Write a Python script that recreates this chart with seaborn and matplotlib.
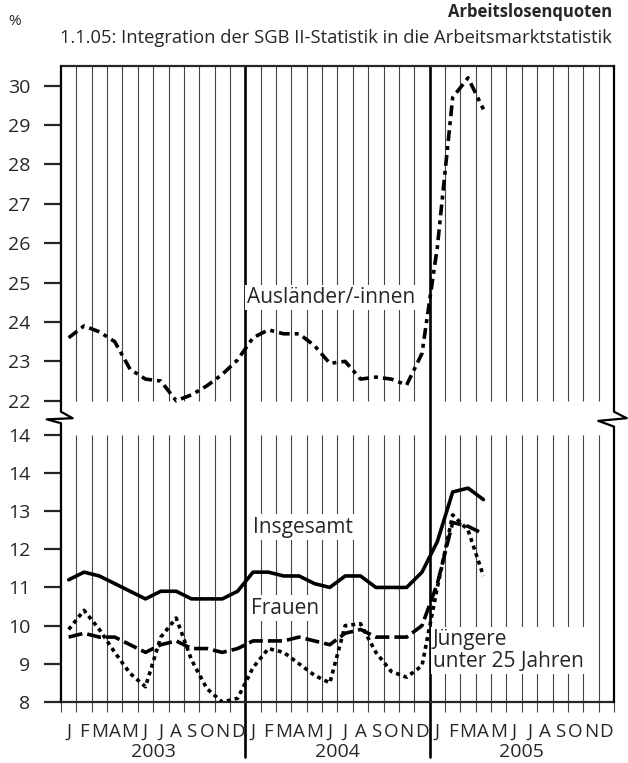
import numpy as np
import pandas as pd
import seaborn as sns
import matplotlib.pyplot as plt

# Arbeitslosenquoten Jan 2003 - Apr 2005 (monthly, %)
months = ["J", "F", "M", "A", "M", "J", "J", "A", "S", "O", "N", "D"]
years = ["2003", "2004", "2005"]

insgesamt = [11.2, 11.4, 11.3, 11.1, 10.9, 10.7, 10.9, 10.9, 10.7, 10.7, 10.7, 10.9,
             11.4, 11.4, 11.3, 11.3, 11.1, 11.0, 11.3, 11.3, 11.0, 11.0, 11.0, 11.4,
             12.2, 13.5, 13.6, 13.3]
frauen = [9.7, 9.8, 9.7, 9.7, 9.5, 9.3, 9.5, 9.6, 9.4, 9.4, 9.3, 9.4,
          9.6, 9.6, 9.6, 9.7, 9.6, 9.5, 9.8, 9.9, 9.7, 9.7, 9.7, 10.0,
          11.1, 12.7, 12.6, 12.4]
juengere = [9.9, 10.4, 9.9, 9.3, 8.75, 8.4, 9.7, 10.2, 9.1, 8.35, 8.0, 8.1,
            8.9, 9.4, 9.3, 9.0, 8.7, 8.5, 10.0, 10.05, 9.3, 8.8, 8.65, 8.95,
            11.0, 12.9, 12.5, 11.3]
auslaender = [23.6, 23.9, 23.75, 23.5, 22.8, 22.55, 22.5, 22.0, 22.15, 22.38, 22.67, 23.04,
              23.6, 23.8, 23.7, 23.7, 23.4, 22.95, 23.0, 22.55, 22.6, 22.55, 22.4, 23.2,
              25.9, 29.7, 30.2, 29.4]

lower_ticks = [8, 9, 10, 11, 12, 13, 14, 15]
lower_labels = ["8", "9", "10", "11", "12", "13", "14", "14"]
upper_ticks = [22, 23, 24, 25, 26, 27, 28, 29, 30]

# broken axis: upper block (22-30) is shifted down onto the lower scale
Y22 = 15.887
K = 1.031


def upper(v):
    return Y22 + (np.asarray(v) - 22) * K


YTOP = 24.65

sns.set_style("white")
plt.rcParams['font.family'] = ['Open Sans', 'DejaVu Sans']

n = len(insgesamt)
x = np.arange(n) + 0.5
df = pd.concat([
    pd.DataFrame({"x": x, "y": insgesamt, "Gruppe": "Insgesamt"}),
    pd.DataFrame({"x": x, "y": frauen, "Gruppe": "Frauen"}),
    pd.DataFrame({"x": x, "y": juengere, "Gruppe": "Jüngere"}),
    pd.DataFrame({"x": x, "y": upper(auslaender), "Gruppe": "Ausländer"}),
], ignore_index=True)

fig = plt.figure(figsize=(6.28, 7.63), dpi=100)
ax = fig.add_axes([0.0971, 0.0799, 0.8806, 0.8336])

# month gridlines, broken at the axis gap
grid_x = [i for i in range(1, 36) if i not in (12, 24)]
ax.vlines(grid_x, 8, 15, color="#444444", lw=0.8, zorder=1)
ax.vlines(grid_x, Y22, YTOP, color="#444444", lw=0.8, zorder=1)

sns.lineplot(data=df, x="x", y="y", style="Gruppe", color="black",
             dashes={"Insgesamt": "", "Frauen": (3.9, 1.4),
                     "Jüngere": (1.1, 1.1), "Ausländer": (3, 1.4, 1.1, 1.4)},
             linewidth=2.6, legend=False, ax=ax, zorder=3)

# year separators
for xs in (12, 24):
    ax.axvline(xs, ymin=-0.0865, ymax=1, color="black", lw=1.9, clip_on=False, zorder=2)

ax.set_xlim(0, 36)
ax.set_ylim(8, YTOP)
ax.set_xlabel("")
ax.set_ylabel("")

ax.set_yticks(list(lower_ticks) + list(upper(upper_ticks)),
              lower_labels + [str(t) for t in upper_ticks])
ax.tick_params(axis="y", direction="out", length=12, width=1.6, labelsize=14,
               pad=10, left=True)
ax.set_xticks(range(37), [""] * 37)
ax.tick_params(axis="x", which="major", direction="out", length=7, width=0.8,
               color="#444444", bottom=True)

xt = ax.get_xaxis_transform()
for i in range(36):
    ax.text(i + 0.5, -0.055, months[i % 12], transform=xt,
            ha="center", va="baseline", fontsize=13.5)
for k, yr in enumerate(years):
    ax.text(12 * k + 6, -0.0865, yr, transform=xt,
            ha="center", va="baseline", fontsize=14)

# frame with zigzag breaks
for s in ("left", "right"):
    ax.spines[s].set_visible(False)
for s in ("top", "bottom"):
    ax.spines[s].set_linewidth(1.6)
ax.plot([0, 0, -0.93, 0.76, 0, 0], [8, 15.30, 15.40, 15.43, 15.60, YTOP],
        color="black", lw=1.6, clip_on=False, zorder=4)
ax.plot([36, 36, 34.98, 36.83, 36, 36], [8, 15.21, 15.36, 15.43, 15.60, YTOP],
        color="black", lw=1.6, clip_on=False, zorder=4)

box = dict(facecolor="white", edgecolor="none", pad=1.5)
ax.text(12.1, 18.6, "Ausländer/-innen", fontsize=15, ha="left", va="center", bbox=box, zorder=5)
ax.text(12.5, 12.58, "Insgesamt", fontsize=15, ha="left", va="center", bbox=box, zorder=5)
ax.text(12.35, 10.46, "Frauen", fontsize=15, ha="left", va="center", bbox=box, zorder=5)
ax.text(24.2, 9.35, "Jüngere\nunter 25 Jahren", fontsize=15, ha="left", va="center",
        linespacing=1.05, bbox=box, zorder=5)

fig.text(0.9745, 0.984, "Arbeitslosenquoten", fontsize=12, fontweight="bold",
         ha="right", va="center")
fig.text(0.9745, 0.950, "1.1.05: Integration der SGB II-Statistik in die Arbeitsmarktstatistik",
         fontsize=13.2, ha="right", va="center")
fig.text(0.013, 0.972, "%", fontsize=11, ha="left", va="center")

plt.savefig("out.png", dpi=100)
plt.close()
